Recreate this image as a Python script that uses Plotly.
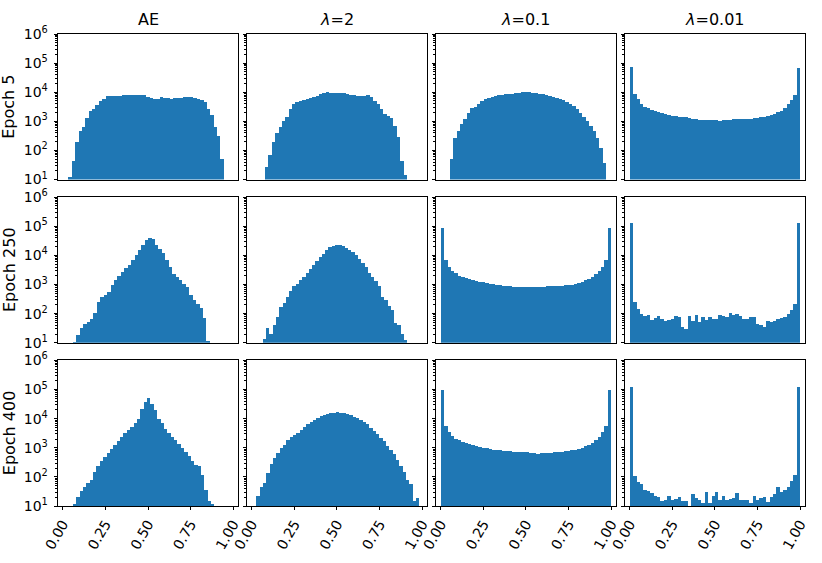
#!/usr/bin/env python

import plotly.graph_objects as go
from plotly.subplots import make_subplots

col_titles = ['AE', '<i>λ</i>=2', '<i>λ</i>=0.1', '<i>λ</i>=0.01']
row_titles = ['Epoch 5', 'Epoch 250', 'Epoch 400']

# histogram counts per panel, with the first and last bin edge
e5_ae = [12, 45, 190, 460, 630, 1300, 2200, 2700, 3500, 5000, 6000, 7200, 7700,
         7500, 7600, 7700, 8000, 8100, 8000, 7800, 7800, 8200, 8000, 7000, 6200, 5800, 6000,
         6700, 6400, 6100, 6000, 6100, 6300, 6500, 6700, 6700, 6600, 6200, 5800,
         5500, 4500, 2700, 1700, 630, 325, 51]
e5_l2 = [26, 72, 190, 390, 660, 1000, 1400, 2700, 3800, 4500, 5100, 5500, 5800, 6300, 6900, 7600, 8500,
         9500, 9800, 9700, 9600, 9500, 9500, 9400, 9000,
         8300, 7800, 7500, 7300, 7700, 8000,
         6800, 5100, 4000, 2700, 1800, 1500, 1300, 700, 280, 45, 14]
e5_l01 = [51, 270, 480, 780, 1200, 1900, 2800, 3200, 4000, 4900, 5700, 6400, 7000, 7400, 7900, 8300,
          8600, 8800, 9000, 9300, 9600, 9900, 10500,
          10000, 9600, 9300, 9000, 8600, 8100, 7400, 7000, 6400, 5800, 5200, 4500, 3900, 3300, 2600,
          2000, 1400, 1000, 700, 450, 270, 120, 36]
e5_l001 = [76000, 8700, 5900, 4000, 3200, 2900, 2500, 2350, 2100, 1900, 1750, 1600, 1570, 1490, 1450,
           1400, 1380, 1300, 1250, 1180, 1150, 1130, 1130, 1150, 1130, 1100, 1060, 1100, 1130, 1150,
           1180, 1180, 1220, 1220, 1250, 1250, 1280, 1300, 1380, 1450, 1570, 1670, 1800, 2050, 2350,
           2900, 4000, 5500, 8300, 70000]

e250_ae = [10.5, 18, 31, 43, 50, 64, 103, 240, 365, 440, 560, 970, 1370, 1880, 2700, 3500, 4700, 6700,
           10000, 15000, 23000, 33000, 37600, 35000, 23000, 16500, 11500, 7100, 4000, 2300,
           1730, 1370, 1060, 810, 440, 295, 215, 150, 69, 11]
e250_l2 = [13, 31, 20, 40, 75, 160, 230, 355, 600, 850, 1060, 1370, 1800, 2500, 3400, 4600, 6500, 8500,
           11000, 15600, 19000, 20800, 22000, 22000, 20500, 18000, 15600, 12700, 10000, 7500, 5500,
           3800, 2500, 1800, 1330, 900, 365, 295, 175, 135, 46, 41, 20, 12]
e250_l01 = [89000, 6600, 3900, 2950, 2450, 2000, 1800, 1650, 1530, 1370, 1270, 1200, 1170, 1110, 1060,
            1030, 970, 920, 900, 880, 850, 830, 810, 810, 790, 810, 810, 810, 790, 810, 830, 880, 850,
            850, 880, 900, 920, 950, 970, 1030, 1110, 1230, 1370, 1530, 1800, 2200, 2950, 3800, 6800,
            87000]
e250_l001 = [130000, 245, 145, 95, 79, 90, 59, 69, 79, 66, 57, 60, 67, 83, 75, 34, 30, 83, 53, 85, 49,
             77, 59, 77, 64, 67, 85, 81, 73, 105, 85, 95, 79, 67, 62, 77, 75, 42, 39, 35, 54, 52, 54,
             67, 69, 77, 95, 127, 210, 125000]

e400_ae = [11, 20, 32, 44, 60, 78, 140, 230, 330, 470, 640, 900, 1200, 1650, 2250, 3000, 3900, 5100,
           7000, 9700, 21000, 37000, 51000, 32000, 19700, 9700, 6700, 4300, 3200, 2300, 1770, 1290,
           960, 680, 500, 340, 240, 225, 108, 35, 14, 11]
e400_l2 = [21, 43, 60, 133, 278, 430, 650, 920, 1250, 1760, 2250, 2600, 3200, 3900, 5000, 6100, 7400,
           8600, 10000, 11500, 12900, 13900, 14700, 15500, 15900, 15500, 14700, 13900, 12500, 11200,
           9900, 8600, 7400, 6100, 4700, 3600, 2800, 2100, 1630, 1100, 800, 570, 380, 225, 147, 78,
           57, 14, 18]
e400_l01 = [94000, 5200, 3270, 2370, 1970, 1720, 1550, 1390, 1290, 1190, 1100, 1020, 960, 940, 890, 840,
            820, 780, 760, 740, 720, 700, 680, 680, 665, 665, 650, 650, 590, 630, 615, 650, 650, 665,
            680, 700, 720, 740, 780, 820, 890, 960, 1070, 1190, 1390, 1720, 2300, 3350, 5500, 90000]
e400_l001 = [120000, 100, 62, 53, 34, 32, 27, 21, 20, 14, 16, 21, 16, 17, 20, 14, 14, 10, 25, 18, 15,
             12, 30, 12, 22, 30, 16, 21, 16, 17, 18, 26, 15, 16, 15, 12, 21, 15, 18, 20, 13, 19, 25,
             44, 29, 35, 44, 69, 114, 120000]

counts = [[e5_ae, e5_l2, e5_l01, e5_l001],
          [e250_ae, e250_l2, e250_l01, e250_l001],
          [e400_ae, e400_l2, e400_l01, e400_l001]]
first_edge = [[0.033, 0.078, 0.053, 0.0],
              [0.059, 0.065, 0.0, 0.0],
              [0.059, 0.027, 0.0, 0.0]]
last_edge = [[0.945, 0.910, 0.970, 1.0],
             [0.863, 0.912, 1.0, 1.0],
             [0.890, 0.982, 1.0, 1.0]]

decades = [1, 2, 3, 4, 5, 6]
y_ticks = [10**d for d in decades]
y_labels = [f'10<sup>{d}</sup>' for d in decades]
y_minor = [m * 10**d for d in decades[:-1] for m in range(2, 10)]
x_ticks = [0, 0.25, 0.5, 0.75, 1]
x_labels = ['0.00', '0.25', '0.50', '0.75', '1.00']

WIDTH = 822
HEIGHT = 563
LEFT, RIGHT, TOP, BOTTOM = 58, 16.5, 33.5, 57
font = 'DejaVu Sans'

fig = make_subplots(
    rows=3, cols=4,
    horizontal_spacing=9 / (WIDTH - LEFT - RIGHT),
    vertical_spacing=17.7 / (HEIGHT - TOP - BOTTOM),
)

for r in range(3):
    for c in range(4):
        vals = counts[r][c]
        width = (last_edge[r][c] - first_edge[r][c]) / len(vals)
        centers = [first_edge[r][c] + width * (i + 0.5) for i in range(len(vals))]
        fig.add_trace(go.Bar(x=centers, y=vals, width=width, marker_color='#1f77b4',
                             marker_line_width=0, showlegend=False), row=r + 1, col=c + 1)
        fig.update_xaxes(
            range=[-0.028, 1.028], tickmode='array', tickvals=x_ticks, ticktext=x_labels,
            showticklabels=r == 2, automargin=False,
            ticks='outside' if r == 2 else '', ticklen=3.5, tickwidth=0.8, tickcolor='#000000',
            tickangle=-60, showgrid=False, zeroline=False, mirror=True, showline=True,
            linecolor='#000000', linewidth=0.8, row=r + 1, col=c + 1)
        fig.update_yaxes(
            type='log', range=[1, 6], tickmode='array', tickvals=y_ticks, ticktext=y_labels,
            showticklabels=c == 0, automargin=False, ticklabelstandoff=3,
            ticks='outside', ticklen=3.5, tickwidth=0.8, tickcolor='#000000',
            minor=dict(ticks='outside', ticklen=2, tickwidth=0.6, tickcolor='#000000',
                       tickvals=y_minor, showgrid=False),
            showgrid=False, zeroline=False, mirror=True, showline=True,
            linecolor='#000000', linewidth=0.8, row=r + 1, col=c + 1)

for c, title in enumerate(col_titles):
    fig.add_annotation(text=title, xref='x domain', yref='y domain', x=0.5, y=1, yshift=3,
                       xanchor='center', yanchor='bottom', showarrow=False,
                       font=dict(size=16), row=1, col=c + 1)

for r, title in enumerate(row_titles):
    fig.add_annotation(text=title, xref='x domain', yref='y domain', x=0, y=0.5, xshift=-49,
                       xanchor='center', yanchor='middle', textangle=-90, showarrow=False,
                       font=dict(size=16), row=r + 1, col=1)

fig.update_layout(
    width=WIDTH, height=HEIGHT,
    margin=dict(l=LEFT, r=RIGHT, t=TOP, b=BOTTOM),
    paper_bgcolor='white', plot_bgcolor='white',
    bargap=0,
    font=dict(family=font, size=14, color='#000000'),
)

# drop the default body margin so the figure sits at the page corner
fig.write_html("out.html", config={'displayModeBar': False},
               post_script="document.body.style.margin = '0';")
